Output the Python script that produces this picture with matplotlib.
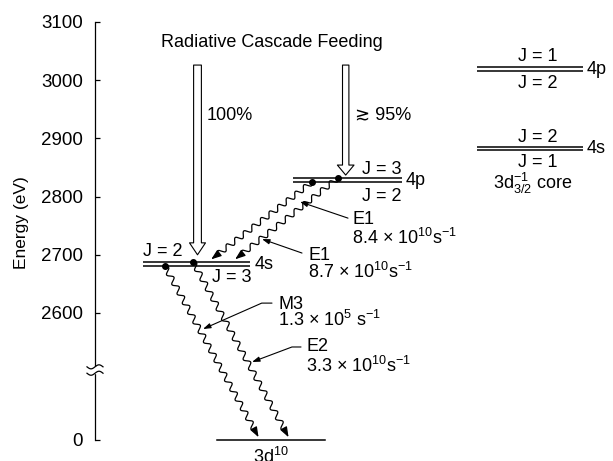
import numpy as np
import matplotlib
matplotlib.use("Agg")
import matplotlib.pyplot as plt
from matplotlib.patches import FancyArrowPatch, Rectangle

plt.rcParams['font.family'] = ['Liberation Sans', 'DejaVu Sans']
plt.rcParams['mathtext.fontset'] = 'custom'
plt.rcParams['mathtext.rm'] = 'Liberation Sans'
plt.rcParams['mathtext.it'] = 'Liberation Sans:italic'
plt.rcParams['mathtext.bf'] = 'Liberation Sans:bold'

# level energies in eV
e_4s = [2688, 2680]            # J = 2 (upper), J = 3 (lower)
e_4p = [2832, 2825]            # J = 3 (upper), J = 2 (lower)
e_ground = 0                   # 3d10
e_key_4p = [3022, 3016]        # J = 1, J = 2   (3d_3/2^-1 core)
e_key_4s = [2885, 2880]        # J = 2, J = 1
e_feed = 3026                  # where the cascade feeding arrows start

j_4s = ['J = 2', 'J = 3']
j_4p = ['J = 3', 'J = 2']
j_key_4p = ['J = 1', 'J = 2']
j_key_4s = ['J = 2', 'J = 1']

feed_labels = ['100%', '\u2273 95%']
multipoles = ['E1', 'E1', 'M3', 'E2']
rates = ['8.4 \u00d7 10$^{10}$s$^{-1}$', '8.7 \u00d7 10$^{10}$s$^{-1}$',
         '1.3 \u00d7 10$^{5}$ s$^{-1}$', '3.3 \u00d7 10$^{10}$s$^{-1}$']

tick_values = [0, 2600, 2700, 2800, 2900, 3000, 3100]
tick_labels = ['0', '2600', '2700', '2800', '2900', '3000', '3100']

# axis is broken between 0 and 2600
ZERO_POS = 2382
BREAK_POS = 2502


def ypos(e):
    return e if e >= 2600 else ZERO_POS


fig = plt.figure(figsize=(6.13, 4.61), dpi=100)
ax = fig.add_axes([0, 0, 1, 1])
ax.set_xlim(0, 613)
ax.set_ylim(2345.7, 3137.8)

for s in ['top', 'right', 'bottom']:
    ax.spines[s].set_visible(False)
ax.spines['left'].set_position(('data', 95))
ax.spines['left'].set_bounds(ZERO_POS, 3100)
ax.spines['left'].set_linewidth(0.9)
ax.set_xticks([])
ax.set_yticks([ypos(v) for v in tick_values])
ax.set_yticklabels(tick_labels, fontsize=13.5)
ax.tick_params(axis='y', direction='in', length=3.6, width=0.9, pad=8.5)
ax.text(22, 2755, 'Energy (eV)', rotation=90, ha='center', va='center', fontsize=12.5)

# axis break mark
to_disp = ax.transData.transform
to_data = ax.transData.inverted().transform
c = to_disp((95, BREAK_POS))
ax.add_patch(Rectangle(to_data(c + [-3, -3]), 6, 6 / 0.582, color='white', zorder=3))
xs = np.linspace(-8, 8, 50)
for dy in [3.2, -3.2]:
    pts = np.column_stack([c[0] + xs, c[1] + dy + 2.0 * np.sin(np.pi * xs / 8)])
    pts = to_data(pts)
    ax.plot(pts[:, 0], pts[:, 1], color='black', lw=0.9, zorder=4)

lw_lev = 1.1


def level_pair(x0, x1, es):
    for e in es:
        ax.plot([x0, x1], [ypos(e), ypos(e)], color='black', lw=lw_lev, solid_capstyle='butt')


# diagram levels
level_pair(143, 250, e_4s)
level_pair(293, 402, e_4p)
ax.plot([217, 325], [ypos(e_ground)] * 2, color='black', lw=lw_lev)
level_pair(477, 583, e_key_4p)
level_pair(477, 583, e_key_4s)

fs = 13
ax.text(143, 2705, j_4s[0], ha='left', va='center', fontsize=fs)
ax.text(251, 2661, j_4s[1], ha='right', va='center', fontsize=fs)
ax.text(255, 2684, '4s', ha='left', va='center', fontsize=fs)
ax.text(402, 2847, j_4p[0], ha='right', va='center', fontsize=fs)
ax.text(402, 2801, j_4p[1], ha='right', va='center', fontsize=fs)
ax.text(406, 2828, '4p', ha='left', va='center', fontsize=fs)
ax.text(271, 2370, '3d$^{10}$', ha='center', va='top', fontsize=fs)

ax.text(538, 3040, j_key_4p[0], ha='center', va='center', fontsize=fs)
ax.text(538, 2995, j_key_4p[1], ha='center', va='center', fontsize=fs)
ax.text(587, 3019, '4p', ha='left', va='center', fontsize=fs)
ax.text(538, 2902, j_key_4s[0], ha='center', va='center', fontsize=fs)
ax.text(538, 2858, j_key_4s[1], ha='center', va='center', fontsize=fs)
ax.text(587, 2883, '4s', ha='left', va='center', fontsize=fs)
ax.text(533, 2823, r'$\mathrm{3d}^{-1}_{3/2}$ core', ha='center', va='center', fontsize=fs)

ax.text(272, 3064, 'Radiative Cascade Feeding', ha='center', va='center', fontsize=fs)

# hollow feeding arrows
ax.add_patch(FancyArrowPatch((197.5, e_feed), (197.5, 2700),
                             arrowstyle='simple,head_length=8.6,head_width=11.5,tail_width=5.6',
                             mutation_scale=1, fc='white', ec='black', lw=0.8,
                             shrinkA=0, shrinkB=0, zorder=3))
ax.add_patch(FancyArrowPatch((345.7, e_feed), (345.7, 2837),
                             arrowstyle='simple,head_length=7.2,head_width=12,tail_width=4.6',
                             mutation_scale=1, fc='white', ec='black', lw=0.8,
                             shrinkA=0, shrinkB=0, zorder=3))
ax.text(207, 2940, feed_labels[0], ha='left', va='center', fontsize=fs)
ax.text(355, 2940, feed_labels[1], ha='left', va='center', fontsize=fs)


def wavy(x0, e0, x1, e1, gap=4, head=8, period=11, amp=2.7):
    p0 = to_disp((x0, ypos(e0)))
    p1 = to_disp((x1, ypos(e1)))
    d = p1 - p0
    L = np.hypot(*d)
    u = d / L
    n = np.array([-u[1], u[0]])
    tip = p1 - u * gap
    end = tip - u * head
    length = L - gap - head
    k = max(1, round(length / period))
    s = np.linspace(0, length, 600)
    off = amp * np.sin(2 * np.pi * k * s / length)
    pts = to_data(p0 + np.outer(s, u) + np.outer(off, n))
    ax.plot(pts[:, 0], pts[:, 1], color='black', lw=0.9)
    ax.add_patch(FancyArrowPatch(to_data(end), to_data(tip),
                                 arrowstyle='-|>,head_length=0.6,head_width=0.22',
                                 mutation_scale=10, color='black', lw=0.9,
                                 shrinkA=0, shrinkB=0))
    ax.plot([x0], [ypos(e0)], 'o', color='black', ms=4, zorder=5)


# radiative transitions
wavy(312, e_4p[1], 208, e_4s[0])
wavy(338, e_4p[0], 232, e_4s[0])
wavy(165, e_4s[1], 260, e_ground, gap=3)
wavy(193, e_4s[0], 290, e_ground, gap=3)

# labels with pointers
label_pos = [(352, 2761, 2729), (308, 2699, 2671), (278, 2615, 2588), (306, 2542, 2509)]
pointers = [((348, 2763), (300, 2791), 'arc3'),
            ((302, 2703), (262, 2727), 'arc3'),
            ((272, 2617), (203, 2572.5), 'angle,angleA=0,angleB=23.8,rad=0'),
            ((301, 2541.6), (252, 2515.8), 'angle,angleA=0,angleB=20.6,rad=0')]
for (lx, ey1, ey2), m, r in zip(label_pos, multipoles, rates):
    ax.text(lx, ey1, m, ha='left', va='center', fontsize=fs)
    ax.text(lx, ey2, r, ha='left', va='center', fontsize=fs)
for start, tip, cs in pointers:
    ax.annotate('', xy=tip, xytext=start,
                arrowprops=dict(arrowstyle='-|>,head_length=0.45,head_width=0.15',
                                mutation_scale=10, color='black', lw=0.8,
                                shrinkA=0, shrinkB=0, connectionstyle=cs))

fig.savefig('out.png', dpi=100)
